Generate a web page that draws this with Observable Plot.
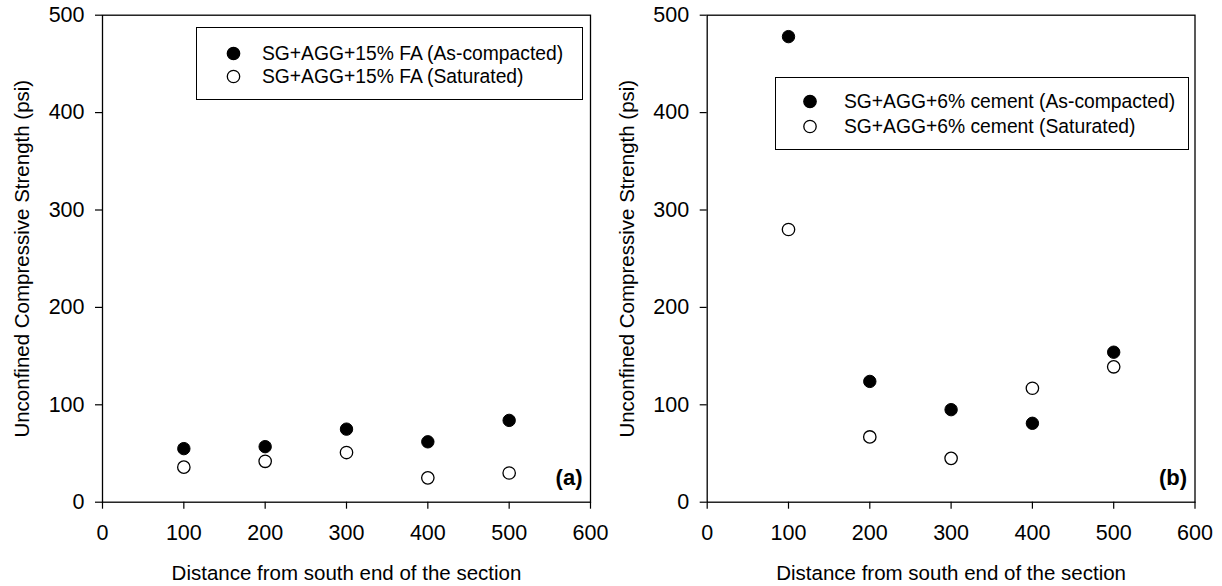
<!DOCTYPE html>
<html>
<head>
<meta charset="utf-8">
<script src="https://cdn.jsdelivr.net/npm/d3@7"></script>
<script src="https://cdn.jsdelivr.net/npm/@observablehq/plot@0.6"></script>
<style>
  body { margin: 0; background: #fff; font-family: "Liberation Sans", Arial, sans-serif; }
  #wrap { position: relative; width: 1222px; height: 586px; overflow: hidden; }
  .panel { position: absolute; top: 0; height: 586px; }
  .panel g[aria-label$="tick label"] { font-size: 21.5px; }
  .legend { position: absolute; box-sizing: border-box; border: 1.3px solid #000; background: #fff; }
  .legend svg { display: block; overflow: visible; }
</style>
</head>
<body>
<div id="wrap"></div>
<script>
// ---- data ----
const distances = [100, 200, 300, 400, 500];
const faCompacted = [55, 57, 75, 62, 84];
const faSaturated = [36, 42, 51, 25, 30];
const cementCompacted = [478, 124, 95, 81, 154];
const cementSaturated = [280, 67, 45, 117, 139];
const xTicks = [0, 100, 200, 300, 400, 500, 600];
const yTicks = [0, 100, 200, 300, 400, 500];
const xLabel = "Distance from south end of the section";
const yLabel = "Unconfined Compressive Strength (psi)";
const legendA = ["SG+AGG+15% FA (As-compacted)", "SG+AGG+15% FA (Saturated)"];
const legendB = ["SG+AGG+6% cement (As-compacted)", "SG+AGG+6% cement (Saturated)"];

const font = "'Liberation Sans', Arial, sans-serif";
const tickFont = 21.5;
const labelFont = 20.5;

function rows(xs, ys) { return xs.map((x, i) => ({x, y: ys[i]})); }

function panel({compacted, saturated, tag, marginLeft, marginRight}) {
  return Plot.plot({
    width: 611,
    height: 586,
    marginLeft, marginRight,
    marginTop: 14.7,
    marginBottom: 84.3,
    style: {fontFamily: font, fontSize: tickFont + "px", color: "#000", background: "#fff", overflow: "visible"},
    x: {domain: [0, 600]},
    y: {domain: [0, 500]},
    marks: [
      Plot.frame({stroke: "#000", strokeWidth: 1.3}),
      Plot.axisX({ticks: xTicks, tickSize: 7, tickPadding: 16, tickFormat: d => String(d),
        fontSize: tickFont, label: null, strokeWidth: 1.2}),
      Plot.axisX({ticks: [], label: xLabel, labelAnchor: "center", labelOffset: 78, labelArrow: "none",
        fontSize: labelFont}),
      Plot.axisY({ticks: yTicks, tickSize: 7, tickPadding: 11, tickFormat: d => String(d),
        fontSize: tickFont, label: null, strokeWidth: 1.2}),
      Plot.axisY({ticks: [], label: yLabel, labelAnchor: "center", labelOffset: 88, labelArrow: "none",
        fontSize: labelFont}),
      Plot.dot(rows(distances, saturated), {x: "x", y: "y", r: 6.2, fill: "#fff", stroke: "#000", strokeWidth: 1.3}),
      Plot.dot(rows(distances, compacted), {x: "x", y: "y", r: 6.2, fill: "#000", stroke: "#000", strokeWidth: 1}),
      Plot.text([tag], {text: d => d, frameAnchor: "bottom-right", textAnchor: "end", dx: -8, dy: -17,
        fontSize: 22, fontWeight: "bold", fill: "#000"})
    ]
  });
}

function legend(labels, {left, top, width, height, cx, tx, y1, y2}) {
  const div = document.createElement("div");
  div.className = "legend";
  Object.assign(div.style, {left: left + "px", top: top + "px", width: width + "px", height: height + "px"});
  const ns = "http://www.w3.org/2000/svg";
  const svg = document.createElementNS(ns, "svg");
  svg.setAttribute("width", width - 3);
  svg.setAttribute("height", height - 3);
  [[y1, "#000", labels[0]], [y2, "#fff", labels[1]]].forEach(([y, fill, label]) => {
    const c = document.createElementNS(ns, "circle");
    c.setAttribute("cx", cx); c.setAttribute("cy", y); c.setAttribute("r", 6.2);
    c.setAttribute("fill", fill); c.setAttribute("stroke", "#000"); c.setAttribute("stroke-width", 1.3);
    svg.appendChild(c);
    const t = document.createElementNS(ns, "text");
    t.setAttribute("x", tx); t.setAttribute("y", y); t.setAttribute("dy", "0.35em");
    t.setAttribute("font-size", 19.3); t.setAttribute("font-family", font);
    t.textContent = label;
    svg.appendChild(t);
  });
  div.appendChild(svg);
  return div;
}

const wrap = document.getElementById("wrap");
const pa = panel({compacted: faCompacted, saturated: faSaturated, tag: "(a)", marginLeft: 102, marginRight: 21});
pa.classList.add("panel"); pa.style.left = "0px";
const pb = panel({compacted: cementCompacted, saturated: cementSaturated, tag: "(b)", marginLeft: 95.7, marginRight: 27.5});
pb.classList.add("panel"); pb.style.left = "611px";
wrap.appendChild(pa);
wrap.appendChild(pb);
wrap.appendChild(legend(legendA, {left: 196, top: 27, width: 387, height: 73, cx: 36.5, tx: 65, y1: 25.5, y2: 48.5}));
wrap.appendChild(legend(legendB, {left: 775, top: 77, width: 414, height: 73, cx: 34, tx: 68, y1: 23.5, y2: 48.5}));
</script>
</body>
</html>
